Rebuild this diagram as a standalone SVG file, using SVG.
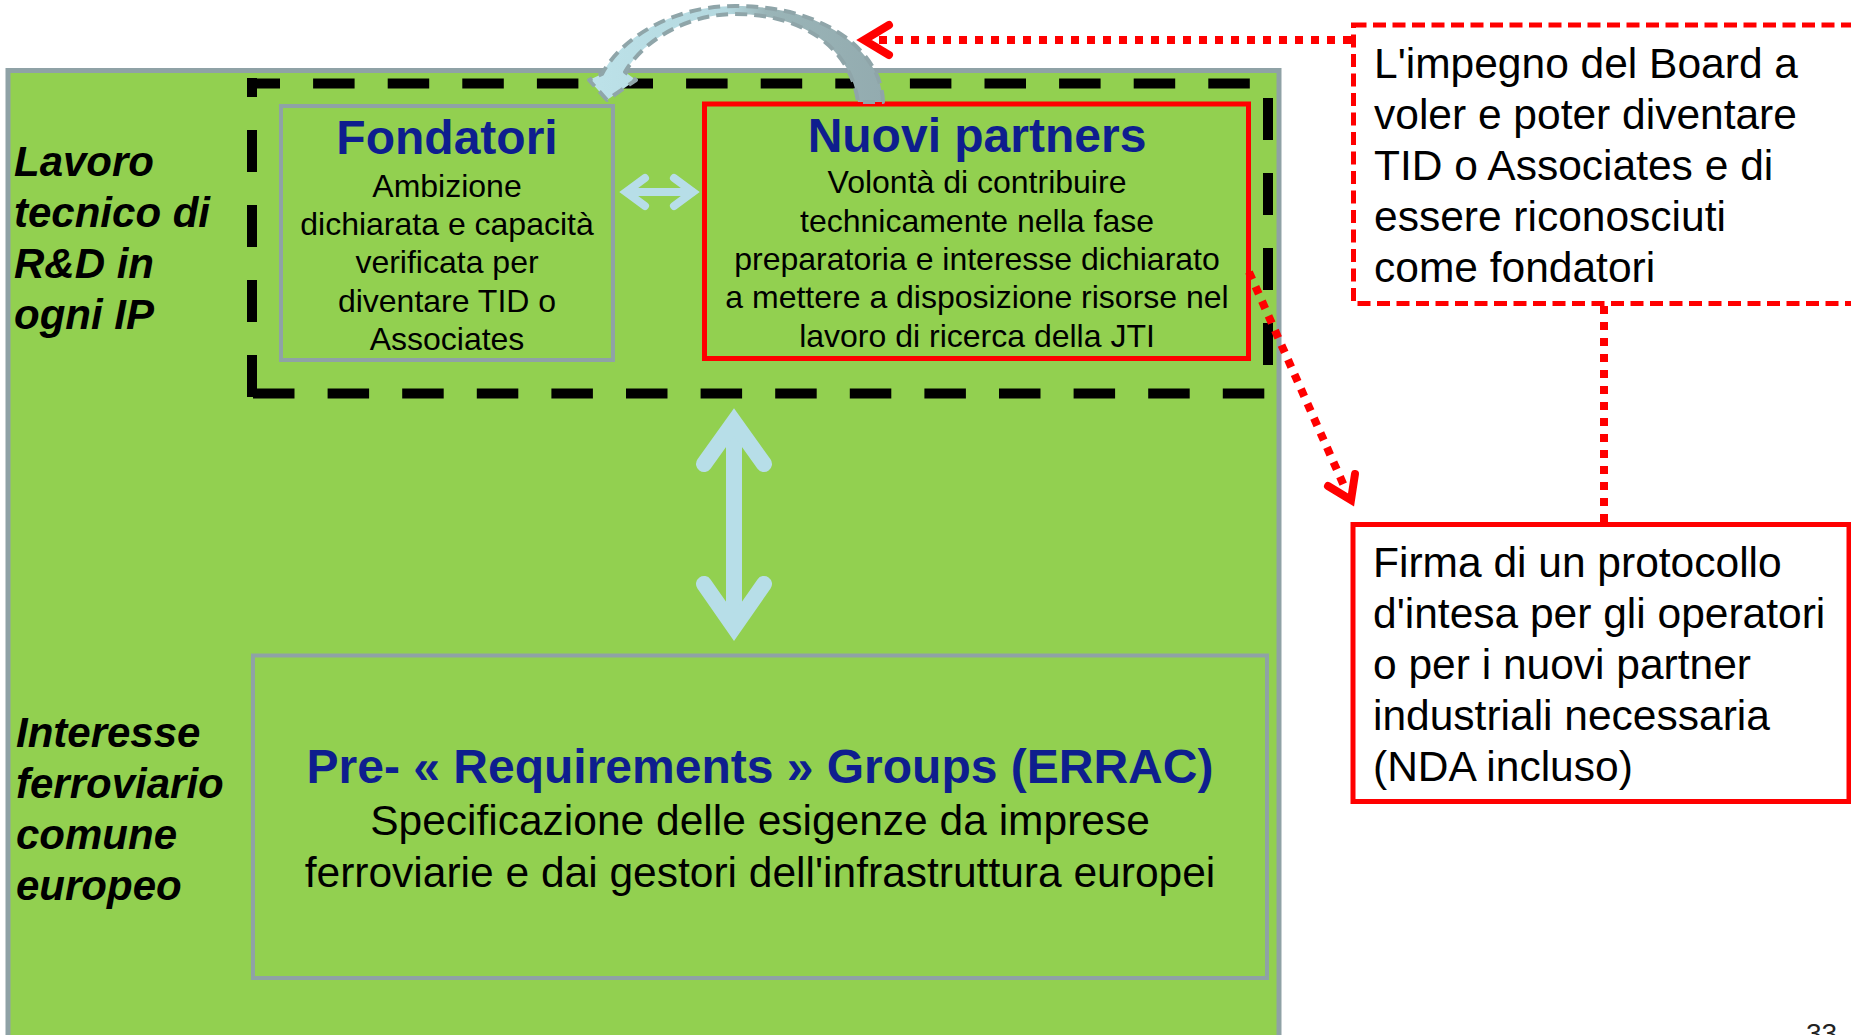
<svg xmlns="http://www.w3.org/2000/svg" width="1851" height="1035" viewBox="0 0 1851 1035">
  <defs>
    <style>
      .sans { font-family: "Liberation Sans", Arial, sans-serif; }
      .side { font-family: "Liberation Sans", Arial, sans-serif; font-weight: bold; font-style: italic; font-size: 42px; fill: #000; }
      .head { font-family: "Liberation Sans", Arial, sans-serif; font-weight: bold; font-size: 48px; fill: #0E1E8E; text-anchor: middle; }
      .small { font-family: "Liberation Sans", Arial, sans-serif; font-size: 32px; fill: #000; text-anchor: middle; }
      .big { font-family: "Liberation Sans", Arial, sans-serif; font-size: 42.5px; fill: #000; }
      .greenbox { fill: #92D050; stroke: #8FA2A6; stroke-width: 4; }
      .blackdash { stroke: #000; stroke-width: 10; fill: none; }
      .reddot { stroke: #FF0000; stroke-width: 8; fill: none; stroke-dasharray: 8 8; }
      .redhead { stroke: #FF0000; stroke-width: 8; fill: none; stroke-linecap: round; stroke-linejoin: miter; }
      .bluearrow { stroke: #B7DEE8; fill: none; stroke-linecap: round; stroke-linejoin: miter; }
    </style>
    <linearGradient id="curveGrad" gradientUnits="userSpaceOnUse" x1="600" y1="0" x2="885" y2="0">
      <stop offset="0" stop-color="#BCE1E8"/>
      <stop offset="0.45" stop-color="#B4D8DF"/>
      <stop offset="0.58" stop-color="#9AB5B8"/>
      <stop offset="1" stop-color="#93ABAF"/>
    </linearGradient>
  </defs>

  <rect width="1851" height="1035" fill="#FFFFFF"/>

  <!-- main panel -->
  <g id="panel">
    <rect x="8" y="70.5" width="1271" height="980" fill="#92D050" stroke="#8FA2A6" stroke-width="5"/>
  </g>

  <!-- black dashed frame around IP partners -->
  <g id="frame-ip">
    <line class="blackdash" x1="247" y1="83.5" x2="1273" y2="83.5" stroke-dasharray="41.5 33.1" stroke-dashoffset="8.5"/>
    <line class="blackdash" x1="252" y1="78" x2="252" y2="398" stroke-dasharray="42 33" stroke-dashoffset="23"/>
    <line class="blackdash" x1="253" y1="393.5" x2="1273" y2="393.5" stroke-dasharray="41.5 33.1"/>
    <line class="blackdash" x1="1268" y1="98" x2="1268" y2="398" stroke-dasharray="42 33"/>
  </g>

  <!-- side labels -->
  <g id="label-lavoro">
    <text class="side" x="14" y="176">Lavoro</text>
    <text class="side" x="14" y="227">tecnico di</text>
    <text class="side" x="14" y="278">R&amp;D in</text>
    <text class="side" x="14" y="329">ogni IP</text>
  </g>
  <g id="label-interesse">
    <text class="side" x="16" y="747">Interesse</text>
    <text class="side" x="16" y="798">ferroviario</text>
    <text class="side" x="16" y="849">comune</text>
    <text class="side" x="16" y="900">europeo</text>
  </g>

  <!-- Fondatori -->
  <g id="node-fondatori">
    <rect class="greenbox" x="281" y="106" width="332" height="254"/>
    <text class="head" x="447" y="154">Fondatori</text>
    <text class="small" x="447" y="197">Ambizione</text>
    <text class="small" x="447" y="235">dichiarata e capacità</text>
    <text class="small" x="447" y="273">verificata per</text>
    <text class="small" x="447" y="312">diventare TID o</text>
    <text class="small" x="447" y="350">Associates</text>
  </g>

  <!-- Nuovi partners -->
  <g id="node-nuovi">
    <rect x="704.5" y="104" width="544" height="254.5" fill="#92D050" stroke="#FF0000" stroke-width="5"/>
    <text class="head" x="977" y="152">Nuovi partners</text>
    <text class="small" x="977" y="193">Volontà di contribuire</text>
    <text class="small" x="977" y="232">technicamente nella fase</text>
    <text class="small" x="977" y="270">preparatoria e interesse dichiarato</text>
    <text class="small" x="977" y="308">a mettere a disposizione risorse nel</text>
    <text class="small" x="977" y="347">lavoro di ricerca della JTI</text>
  </g>

  <!-- ERRAC -->
  <g id="node-errac">
    <rect class="greenbox" x="253" y="655.5" width="1014" height="322.5"/>
    <text class="head" x="760" y="783">Pre- « Requirements » Groups (ERRAC)</text>
    <text class="big" x="760" y="835" text-anchor="middle">Specificazione delle esigenze da imprese</text>
    <text class="big" x="760" y="887" text-anchor="middle">ferroviarie e dai gestori dell'infrastruttura europei</text>
  </g>

  <!-- Board commitment -->
  <g id="node-board">
    <rect x="1353.5" y="25" width="503" height="278.5" fill="#FFFFFF" stroke="#FF0000" stroke-width="5" stroke-dasharray="13 6.5"/>
    <text class="big" x="1374" y="78">L'impegno del Board a</text>
    <text class="big" x="1374" y="129">voler e poter diventare</text>
    <text class="big" x="1374" y="180">TID o Associates e di</text>
    <text class="big" x="1374" y="231">essere riconosciuti</text>
    <text class="big" x="1374" y="282">come fondatori</text>
  </g>

  <!-- Firma protocollo -->
  <g id="node-firma">
    <rect x="1353" y="524.5" width="496" height="277" fill="#FFFFFF" stroke="#FF0000" stroke-width="5"/>
    <text class="big" x="1373" y="577">Firma di un protocollo</text>
    <text class="big" x="1373" y="628">d'intesa per gli operatori</text>
    <text class="big" x="1373" y="679">o per i nuovi partner</text>
    <text class="big" x="1373" y="730">industriali necessaria</text>
    <text class="big" x="1373" y="781">(NDA incluso)</text>
  </g>

  <!-- connectors -->
  <g id="connectors">
    <!-- horizontal double arrow Fondatori <-> Nuovi -->
    <g class="bluearrow" stroke-width="8">
      <line x1="628" y1="192" x2="692" y2="192"/>
      <polyline points="645,178 626,192 645,206"/>
      <polyline points="674,178 693,192 674,206"/>
    </g>
    <!-- vertical double arrow -->
    <g class="bluearrow" stroke-width="16">
      <line x1="734" y1="425" x2="734" y2="625"/>
      <polyline points="704,464 734,422 764,464" />
      <polyline points="704,584 734,627 764,584" />
    </g>
    <!-- curved arrow from Nuovi partners to Fondatori -->
    <path d="M 883,102 C 882,55 830,6 735,6 C 670,6 620,40 602,74 L 589,80 L 607,100 L 636,80 L 625,72 C 645,38 690,14 735,14 C 800,14 850,45 858,102 Z"
          fill="url(#curveGrad)" stroke="#8FA5A9" stroke-width="4" stroke-dasharray="12 7" stroke-linejoin="round"/>
    <!-- red dotted arrow: board -> curved arrow -->
    <line class="reddot" x1="1351" y1="40" x2="868" y2="40"/>
    <polyline class="redhead" points="889,25 864,40 889,55"/>
    <!-- red dotted arrow: Nuovi -> Firma -->
    <line class="reddot" x1="1249" y1="272" x2="1345" y2="488"/>
    <polyline class="redhead" points="1355,474 1351,500 1328,486"/>
    <!-- red dotted link board - firma -->
    <line class="reddot" x1="1604" y1="306" x2="1604" y2="522"/>
  </g>

  <text class="sans" x="1806" y="1043" font-size="28" fill="#222">33</text>
</svg>
